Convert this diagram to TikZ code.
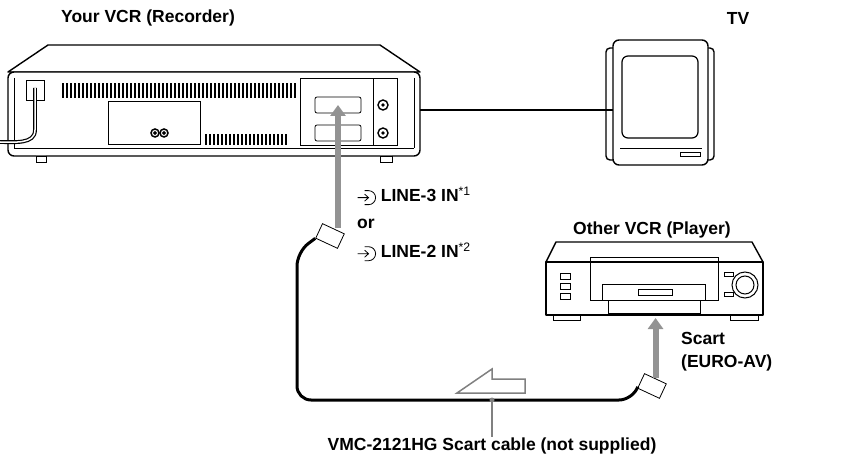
\documentclass[tikz,border=0pt]{standalone}
\usepackage{fontspec}
\setmainfont{Liberation Sans}
\usetikzlibrary{positioning}
\usetikzlibrary{arrows.meta}
\tikzset{>=stealth}
\tikzset{
  lbl/.style={font=\bfseries\fontsize{17.5}{21}\selectfont, inner sep=1pt},
  body/.style={draw, line width=1.4pt, fill=white, line join=round},
  thin/.style={draw, line width=0.8pt},
  grayarrow/.style={draw=gray!85, line width=6pt, -{Triangle[length=11pt,width=15pt]}},
  cable/.style={draw, line width=3pt, rounded corners=14pt},
  plug/.style={draw, thin, fill=white, minimum width=24pt, minimum height=16pt, rotate=-25},
}
\newcommand{\inicon}{\tikz[baseline=-4pt,x=1pt,y=1pt]{\draw[line width=0.8pt] (0,0)--(11,0) (7,3.5)--(11,0)--(7,-3.5);
  \draw[line width=0.8pt] (7,7)--(11,7) arc(90:-90:7) --(7,-7);}\ }
\begin{document}
\begin{tikzpicture}[x=1pt,y=-1pt]
\useasboundingbox (0,0) rectangle (868,465);
% titles
\node[lbl] (rectitle) at (148,18) {Your VCR (Recorder)};
\node[lbl] (tvtitle) at (738,18) {TV};
\node[lbl] (playtitle) at (652,230) {Other VCR (Player)};
% recorder
\draw[body] (48,45) -- (380,45) -- (420,72) -- (8,72) -- cycle;
\draw[body, rounded corners=6pt] (8,72) rectangle (420,156);
\draw[thin] (14,148) -- (414,148);
\draw[thin, fill=white] (36,156) rectangle (46,162) (380,156) rectangle (392,162);
\draw[thin] (14,78) -- (14,148) (414,78) -- (414,148);
\draw[thin] (26,80) rectangle (44,100);
\draw[line width=1.2pt, double=white, double distance=1.5pt] (35,88) -- (35,130) to[out=270,in=0] (0,142);
\foreach \x in {62,66,...,296} \draw[line width=0.6pt] (\x,83) rectangle ++(1.6,14);
\foreach \x in {205,209,...,288} \draw[line width=0.6pt] (\x,134) rectangle ++(1.6,10);
\draw[thin] (108,101) rectangle (200,144);
\foreach \x in {155,164} \draw[line width=1.5pt] (\x,133) circle (4) (\x,133) circle (1);
\draw[thin] (300,78) rectangle (373,145) (373,78) rectangle (397,145);
\node[draw, thin, minimum width=46pt, minimum height=16pt, rounded corners=2pt] (scart3) at (338,105) {};
\node[draw, thin, minimum width=46pt, minimum height=16pt, rounded corners=2pt] (scart2) at (338,133) {};
\foreach \y in {105,133} \draw[line width=1.4pt] (383,\y) circle (5) (383,\y) circle (1);
% TV
\draw[body, rounded corners=4pt] (606,48) rectangle (714,160);
\draw[body, rounded corners=6pt] (613,40) rectangle (708,165);
\node[draw, line width=1.2pt, rounded corners=6pt, minimum width=76pt, minimum height=82pt] (screen) at (660,97) {};
\draw[thin] (620,148) -- (702,148) (680,152) rectangle (700,156);
\draw[line width=1.8pt] (420,110) -- (613,110);
% player
\draw[body] (556,242) -- (752,242) -- (763,262) -- (546,262) -- cycle;
\draw[body] (546,262) rectangle (763,315);
\draw[thin, fill=white] (553,315) rectangle (580,320) (730,315) rectangle (758,320);
\draw[thin] (590,257) rectangle (718,300) (602,284) rectangle (705,300) (638,289) rectangle (672,295);
\draw[thin] (608,300) rectangle (700,313);
\foreach \y in {276,286,296} \draw[thin] (560,\y-3) rectangle (570,\y+3);
\draw[thin] (724,272) rectangle (733,276) (724,292) rectangle (733,296);
\draw[line width=1pt] (745,285) circle (13) (745,285) circle (9);
% cable and plugs
\node[plug] (plugA) at (330,236) {};
\node[plug] (plugB) at (652,386) {};
\coordinate (bend) at (633,400);
\draw[cable] (plugA.south west) -- (297,252) -- (297,400) -- (bend) -- (plugB.south west);
\draw[grayarrow] (scart3.center |- plugA.north) -- (scart3.center);
\draw[grayarrow] (plugB.north) -- (plugB.north |- 0,318);
\draw[draw=gray, line width=1.5pt] (457,393) -- (492,369) -- (492,379) -- (525,379) -- (525,393) -- cycle;
\coordinate (tap) at (492,400);
\fill[gray] (tap) circle (2.5);
\node[lbl] (cabletxt) at (492,446) {VMC-2121HG Scart cable (not supplied)};
\draw[gray, line width=1.3pt] (tap) -- (cabletxt.north);
% labels
\node[lbl, anchor=west] (line3) at (356,196) {\inicon LINE-3 IN\textsuperscript{\mdseries*1}};
\node[lbl, anchor=west] (ortxt) at (356,224) {or};
\node[lbl, anchor=west] (line2) at (356,252) {\inicon LINE-2 IN\textsuperscript{\mdseries*2}};
\node[lbl, anchor=west] (scarttxt) at (680,338) {Scart};
\node[lbl, anchor=west] (eurotxt) at (680,363) {(EURO-AV)};
\end{tikzpicture}
\end{document}
